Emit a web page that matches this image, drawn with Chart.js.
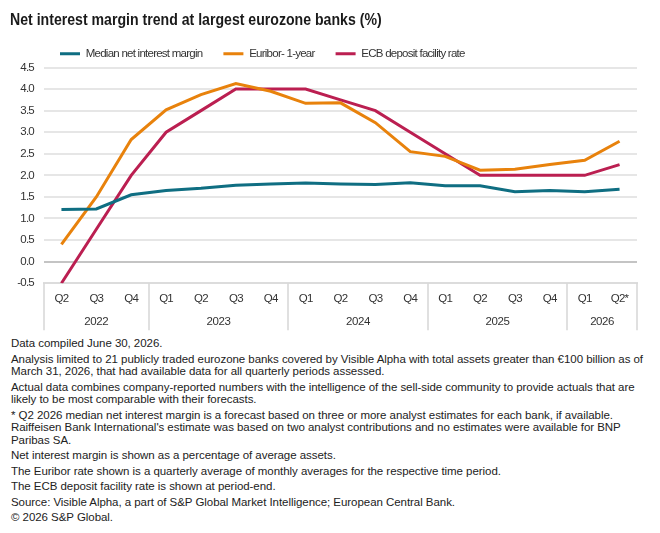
<!DOCTYPE html>
<html>
<head>
<meta charset="utf-8">
<script src="https://cdn.jsdelivr.net/npm/chart.js@4"></script>
<style>
  html, body { margin:0; padding:0; background:#fff; }
  body { width:660px; height:533px; position:relative; overflow:hidden; }
  #title { position:absolute; left:10px; top:10px; font-family:"Liberation Sans",Arial,sans-serif; font-weight:bold; font-size:17px; line-height:20px; color:#1a1a1a; white-space:nowrap; transform:scaleX(0.83); transform-origin:0 0; }
  #wrap { position:absolute; left:0; top:0; width:660px; height:335px; }
  #notes { position:absolute; left:11px; top:337px; width:649px; font-family:"Liberation Sans",Arial,sans-serif; font-size:11.5px; letter-spacing:-0.05px; color:#222; white-space:nowrap; }
  #notes p { margin:0 0 3px 0; line-height:12.5px; }
</style>
</head>
<body>
<div id="wrap"><canvas id="c"></canvas></div>
<div id="title">Net interest margin trend at largest eurozone banks (%)</div>
<div id="notes">
<p>Data compiled June 30, 2026.</p>
<p>Analysis limited to 21 publicly traded eurozone banks covered by Visible Alpha with total assets greater than €100 billion as of<br>March 31, 2026, that had available data for all quarterly periods assessed.</p>
<p>Actual data combines company-reported numbers with the intelligence of the sell-side community to provide actuals that are<br>likely to be most comparable with their forecasts.</p>
<p>* Q2 2026 median net interest margin is a forecast based on three or more analyst estimates for each bank, if available.<br>Raiffeisen Bank International's estimate was based on two analyst contributions and no estimates were available for BNP<br>Paribas SA.</p>
<p>Net interest margin is shown as a percentage of average assets.</p>
<p>The Euribor rate shown is a quarterly average of monthly averages for the respective time period.</p>
<p>The ECB deposit facility rate is shown at period-end.</p>
<p>Source: Visible Alpha, a part of S&amp;P Global Market Intelligence; European Central Bank.</p>
<p>© 2026 S&amp;P Global.</p>
</div>
<script>
const quarters = ['Q2','Q3','Q4','Q1','Q2','Q3','Q4','Q1','Q2','Q3','Q4','Q1','Q2','Q3','Q4','Q1','Q2*'];
const years = ['2022','2022','2022','2023','2023','2023','2023','2024','2024','2024','2024','2025','2025','2025','2025','2026','2026'];
const medianNIM = [1.21,1.22,1.55,1.65,1.70,1.77,1.80,1.82,1.80,1.79,1.83,1.76,1.76,1.62,1.65,1.62,1.68];
const euribor1y = [0.40,1.50,2.83,3.52,3.87,4.13,3.95,3.67,3.68,3.22,2.55,2.44,2.12,2.14,2.25,2.35,2.79];
const ecbDeposit = [-0.5,0.75,2.0,3.0,3.5,4.0,4.0,4.0,3.75,3.5,3.0,2.5,2.0,2.0,2.0,2.0,2.25];
const seriesNames = ['Median net interest margin','Euribor- 1-year','ECB deposit facility rate'];

const FONT = '"Liberation Sans",Arial,sans-serif';
const COLORS = ['#0f6e82','#e8820c','#bb1f51'];
const SPACING = '-0.75px';

const tighten = {
  id: 'tighten',
  beforeLayout(chart) { chart.ctx.letterSpacing = SPACING; },
  beforeDraw(chart) { chart.ctx.letterSpacing = SPACING; }
};

const yearGroups = {
  id: 'yearGroups',
  afterDraw(chart) {
    const x = chart.scales.x;
    const ctx = chart.ctx;
    const half = (x.getPixelForValue(1) - x.getPixelForValue(0)) / 2;
    const top = chart.chartArea.bottom;
    const bottom = top + 47;
    ctx.save();
    ctx.letterSpacing = '-0.4px';
    ctx.strokeStyle = '#d6d6d6';
    ctx.lineWidth = 1.5;
    ctx.fillStyle = '#333';
    ctx.font = '11.5px ' + FONT;
    ctx.textAlign = 'center';
    ctx.textBaseline = 'middle';
    let s = 0;
    for (let i = 1; i <= years.length; i++) {
      if (i === years.length || years[i] !== years[s]) {
        const l = x.getPixelForValue(s) - half;
        const r = x.getPixelForValue(i - 1) + half;
        ctx.beginPath();
        ctx.moveTo(Math.round(l), top); ctx.lineTo(Math.round(l), bottom);
        if (i === years.length) { ctx.moveTo(Math.round(r), top); ctx.lineTo(Math.round(r), bottom); }
        ctx.stroke();
        ctx.fillText(years[s], (l + r) / 2, top + 39);
        s = i;
      }
    }
    ctx.restore();
  }
};

const legendShift = {
  id: 'legendShift',
  afterLayout(chart) {
    chart.legend.left += 30;
    chart.legend.right += 30;
    chart.legend.top += 2;
    chart.legend.bottom += 2;
  }
};

new Chart(document.getElementById('c'), {
  type: 'line',
  data: {
    labels: quarters,
    datasets: [medianNIM, euribor1y, ecbDeposit].map((d, i) => ({
      label: seriesNames[i],
      data: d,
      borderColor: COLORS[i],
      backgroundColor: COLORS[i],
      borderWidth: 3,
      pointRadius: 0,
      tension: 0,
      fill: false
    }))
  },
  plugins: [tighten, yearGroups, legendShift],
  options: {
    responsive: true,
    maintainAspectRatio: false,
    animation: false,
    layout: { padding: { left: 9, right: 23, top: 25, bottom: 5 } },
    plugins: {
      title: { display: false },
      legend: {
        display: true,
        position: 'top',
        align: 'start',
        labels: {
          color: '#333',
          font: { family: FONT, size: 11.5 },
          boxWidth: 20,
          boxHeight: 3,
          padding: 21,
          generateLabels(chart) {
            return chart.data.datasets.map((ds, i) => ({
              text: ds.label, fillStyle: ds.borderColor, strokeStyle: ds.borderColor,
              lineWidth: 0, hidden: false, datasetIndex: i, fontColor: '#333'
            }));
          }
        }
      },
      tooltip: { enabled: false }
    },
    scales: {
      x: {
        offset: true,
        grid: { display: false, drawTicks: false },
        border: { display: true, color: '#dcdcdc', width: 2 },
        ticks: { color: '#333', font: { family: FONT, size: 11.5 }, padding: 9, maxRotation: 0, autoSkip: false },
        afterFit(scale) { scale.height += 15; }
      },
      y: {
        min: -0.5, max: 4.5,
        grid: {
          drawTicks: false,
          color: (c) => (c.tick && c.tick.value === 0) ? '#c4c4c4' : '#e6e6e6',
          lineWidth: 2
        },
        border: { display: false },
        ticks: { stepSize: 0.5, color: '#333', font: { family: FONT, size: 11.5 }, padding: 10,
          callback: (v) => Number(v).toFixed(1) },
        afterFit(scale) { scale.width = 35; }
      }
    }
  }
});
</script>
</body>
</html>
